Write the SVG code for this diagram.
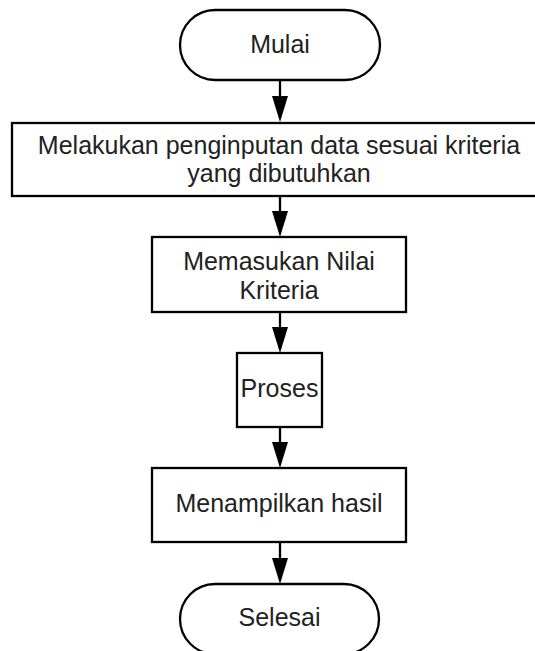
<svg xmlns="http://www.w3.org/2000/svg" width="535" height="651" viewBox="0 0 535 651">
<style>
.shape{fill:#fff;stroke:#000;stroke-width:2.3}
.lbl{font-family:"Liberation Sans",Arial,sans-serif;font-size:25px;fill:#222;text-anchor:middle}
.conn{stroke:#000;stroke-width:2.3;fill:none}
</style>
<defs>
<marker id="arr" markerUnits="userSpaceOnUse" markerWidth="16" markerHeight="26" viewBox="0 0 16 26" refX="8" refY="26" orient="auto-start-reverse">
<path d="M0,0 L16,0 L8,26 Z" fill="#000" transform="rotate(0)"/>
</marker>
</defs>
<rect width="535" height="651" fill="#fff"/>
<g id="connectors">
<path class="conn" d="M280,80 V96"/><path d="M272,96 L288,96 L280,122 Z"/>
<path class="conn" d="M280,196 V211"/><path d="M272,211 L288,211 L280,237 Z"/>
<path class="conn" d="M280,312 V327"/><path d="M272,327 L288,327 L280,353 Z"/>
<path class="conn" d="M280,427 V442"/><path d="M272,442 L288,442 L280,468 Z"/>
<path class="conn" d="M280,542 V558"/><path d="M272,558 L288,558 L280,584 Z"/>
</g>
<g id="mulai">
<rect class="shape" x="180" y="10" width="200" height="70" rx="35" ry="35"/>
<text class="lbl" x="280" y="53">Mulai</text>
</g>
<g id="input">
<rect class="shape" x="12" y="123" width="536" height="73"/>
<text class="lbl" x="279" y="154">Melakukan penginputan data sesuai kriteria</text>
<text class="lbl" x="279" y="182">yang dibutuhkan</text>
</g>
<g id="nilai">
<rect class="shape" x="152" y="237" width="254" height="75"/>
<text class="lbl" x="279" y="270">Memasukan Nilai</text>
<text class="lbl" x="279" y="299">Kriteria</text>
</g>
<g id="proses">
<rect class="shape" x="237" y="353" width="85" height="74"/>
<text class="lbl" x="279.5" y="397">Proses</text>
</g>
<g id="hasil">
<rect class="shape" x="152" y="468" width="254" height="74"/>
<text class="lbl" x="279" y="512">Menampilkan hasil</text>
</g>
<g id="selesai">
<rect class="shape" x="180" y="584" width="199" height="70" rx="35" ry="35"/>
<text class="lbl" x="279.5" y="626">Selesai</text>
</g>
</svg>
